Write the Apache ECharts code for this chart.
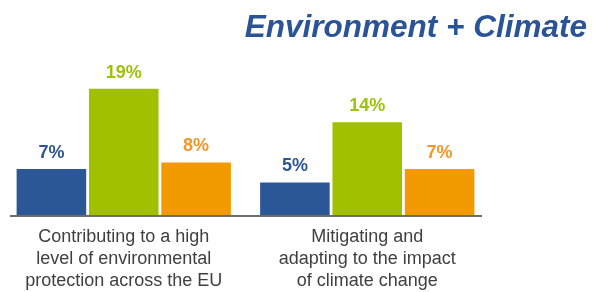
<!DOCTYPE html>
<html>
<head>
<meta charset="utf-8">
<script src="https://cdn.jsdelivr.net/npm/echarts@6/dist/echarts.min.js"></script>
<style>html,body{margin:0;padding:0;background:#fff}#c{width:594px;height:292px}</style>
</head>
<body>
<div id="c"></div>
<script>
var categories = ['Contributing to a high\nlevel of environmental\nprotection across the EU', 'Mitigating and\nadapting to the impact\nof climate change'];
var seriesBlue = [7, 5];
var seriesGreen = [19, 14];
var seriesOrange = [8, 7];
var titleText = 'Environment + Climate';

var colors = ['#2b5797', '#a0c000', '#f39a00'];
var labelColors = ['#2f5597', '#9cc20c', '#f2962a'];

function mk(data, i) {
  return {
    type: 'bar',
    data: data,
    barGap: '4%',
    barCategoryGap: '12%',
    itemStyle: { color: colors[i] },
    label: {
      show: true,
      position: 'top',
      distance: 7,
      formatter: '{c}%',
      color: labelColors[i],
      fontFamily: 'Liberation Sans, Arial, sans-serif',
      fontWeight: 'bold',
      fontSize: 18
    },
    silent: true
  };
}

var chart = echarts.init(document.getElementById('c'));
chart.setOption({
  animation: false,
  title: {
    text: titleText,
    right: 2,
    top: 7,
    textStyle: {
      color: '#2a5496',
      fontSize: 31.5,
      fontWeight: 'bold',
      fontStyle: 'italic',
      fontFamily: 'Liberation Sans, Arial, sans-serif'
    }
  },
  grid: { left: 2, width: 487, top: 82, bottom: 76 },
  xAxis: {
    type: 'category',
    data: categories,
    axisLine: { show: false },
    axisTick: { show: false },
    axisLabel: {
      margin: 10,
      color: '#404040',
      fontSize: 18,
      lineHeight: 22,
      fontFamily: 'Liberation Sans, Arial, sans-serif',
      interval: 0
    }
  },
  yAxis: {
    type: 'value',
    min: 0,
    max: 20,
    show: false,
    splitLine: { show: false }
  },
  graphic: [{
    type: 'line',
    shape: { x1: 10, y1: 216, x2: 482, y2: 216 },
    style: { stroke: '#6b6b6b', lineWidth: 2 },
    z: 10
  }],
  series: [mk(seriesBlue, 0), mk(seriesGreen, 1), mk(seriesOrange, 2)]
});
</script>
</body>
</html>
